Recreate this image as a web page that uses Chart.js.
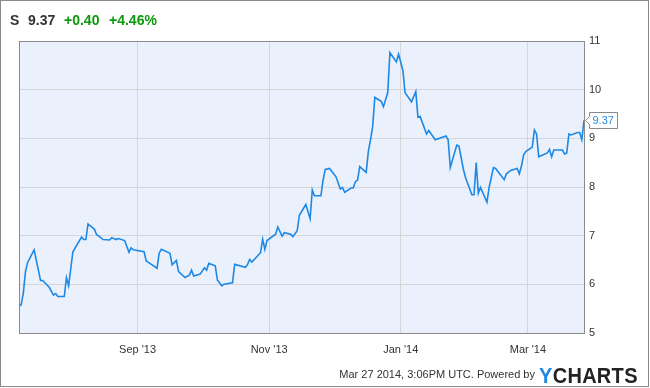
<!DOCTYPE html>
<html><head><meta charset="utf-8">
<script src="https://cdn.jsdelivr.net/npm/chart.js@4.4.1/dist/chart.umd.min.js"></script>
<style>
html,body{margin:0;padding:0;background:#fff;}
#wrap{position:relative;width:650px;height:388px;overflow:hidden;font-family:"Liberation Sans",Arial,sans-serif;}
#frame{position:absolute;left:0;top:0;width:647px;height:385px;border:1px solid #8a8a8a;pointer-events:none;}
canvas{position:absolute;left:0;top:0;}
.h{position:absolute;top:12px;font-weight:bold;font-size:14px;line-height:17px;color:#333;white-space:nowrap;}
.g{color:#0a9a0a;}
#foot{position:absolute;left:300px;width:235px;text-align:right;top:368px;font-size:11px;line-height:13px;color:#333;white-space:nowrap;}
#logo{position:absolute;left:539px;top:364px;font-size:20px;line-height:22px;letter-spacing:0.3px;font-weight:bold;color:#222;white-space:nowrap;transform:scaleY(1.08);transform-origin:0 50%;}
#logo span{color:#1e88e5;}
</style></head>
<body>
<div id="wrap">
<canvas id="c" width="650" height="388"></canvas>
<div class="h" style="left:10px">S</div>
<div class="h" id="last" style="left:28px">9.37</div>
<div class="h g" style="left:64px">+0.40</div>
<div class="h g" style="left:109px">+4.46%</div>
<div id="foot">Mar 27 2014, 3:06PM UTC. Powered by</div>
<div id="logo"><span>Y</span>CHARTS</div>
<div id="frame"></div>
</div>
<script>
const startDate = '2013-07-08';
const dates = [
'2013-07-08','2013-07-09','2013-07-10','2013-07-11','2013-07-12','2013-07-15','2013-07-18','2013-07-19','2013-07-22','2013-07-24','2013-07-25','2013-07-26','2013-07-29','2013-07-30','2013-07-31',
'2013-08-02','2013-08-06','2013-08-07','2013-08-08','2013-08-09','2013-08-12','2013-08-13','2013-08-14','2013-08-16','2013-08-19','2013-08-20','2013-08-22','2013-08-23','2013-08-26','2013-08-28','2013-08-29','2013-08-30',
'2013-09-04','2013-09-05','2013-09-06','2013-09-10','2013-09-11','2013-09-12','2013-09-16','2013-09-17','2013-09-19','2013-09-20','2013-09-23','2013-09-25','2013-09-26','2013-09-27','2013-09-30',
'2013-10-02','2013-10-03','2013-10-04','2013-10-07','2013-10-08','2013-10-10','2013-10-11','2013-10-15','2013-10-16','2013-10-21','2013-10-22','2013-10-23','2013-10-24','2013-10-28','2013-10-29','2013-10-30','2013-10-31',
'2013-11-04','2013-11-05','2013-11-07','2013-11-08','2013-11-11','2013-11-12','2013-11-14','2013-11-15','2013-11-18','2013-11-20','2013-11-21','2013-11-22','2013-11-25','2013-11-26','2013-11-27','2013-11-29',
'2013-12-02','2013-12-04','2013-12-05','2013-12-06','2013-12-09','2013-12-10','2013-12-11','2013-12-12','2013-12-13','2013-12-16','2013-12-17','2013-12-18','2013-12-19','2013-12-20','2013-12-23','2013-12-24','2013-12-26','2013-12-27','2013-12-30','2013-12-31',
'2014-01-02','2014-01-03','2014-01-06','2014-01-08','2014-01-09','2014-01-10','2014-01-13','2014-01-14','2014-01-17','2014-01-22','2014-01-23','2014-01-24','2014-01-27','2014-01-28','2014-01-30','2014-01-31',
'2014-02-03','2014-02-04','2014-02-05','2014-02-06','2014-02-07','2014-02-10','2014-02-11','2014-02-13','2014-02-14','2014-02-18','2014-02-19','2014-02-21','2014-02-24','2014-02-25','2014-02-26','2014-02-27','2014-02-28',
'2014-03-03','2014-03-04','2014-03-05','2014-03-06','2014-03-10','2014-03-11','2014-03-12','2014-03-13','2014-03-17','2014-03-18','2014-03-19','2014-03-20','2014-03-21','2014-03-24','2014-03-25','2014-03-26','2014-03-27'
];
const prices = [
5.55,5.58,5.82,6.26,6.45,6.71,6.08,6.08,5.94,5.78,5.81,5.75,5.75,6.14,5.97,
6.67,6.97,6.92,6.92,7.24,7.13,7.02,6.99,6.92,6.91,6.96,6.92,6.94,6.90,6.66,6.75,6.71,
6.67,6.48,6.45,6.33,6.64,6.72,6.64,6.40,6.49,6.26,6.14,6.19,6.29,6.17,6.21,
6.34,6.29,6.43,6.38,6.09,5.97,6.00,6.03,6.41,6.35,6.41,6.51,6.46,6.65,6.93,6.72,6.90,
7.03,7.18,6.99,7.06,7.03,6.98,7.10,7.42,7.64,7.35,7.94,7.82,7.82,8.14,8.36,8.38,
8.21,7.96,7.99,7.89,7.98,7.98,8.11,8.14,8.42,8.30,8.73,8.97,9.24,9.84,9.76,9.65,9.94,10.76,10.57,10.73,
10.40,9.94,9.75,9.96,9.43,9.45,9.09,9.16,8.97,9.05,8.97,8.40,8.86,8.84,8.38,8.20,
7.84,7.84,8.50,7.87,7.99,7.69,7.99,8.40,8.38,8.15,8.27,8.34,8.38,8.27,8.43,8.66,8.73,
8.82,9.17,9.09,8.62,8.70,8.77,8.62,8.76,8.76,8.68,8.70,9.09,9.07,9.12,9.12,8.97,9.37
];
const xTickDates = ['2013-09-01','2013-11-01','2014-01-01','2014-03-01'];
const xTickLabels = ["Sep '13","Nov '13","Jan '14","Mar '14"];
const yTicks = [5,6,7,8,9,10,11];

const dayOf = s => (Date.parse(s + 'T00:00:00Z') - Date.parse(startDate + 'T00:00:00Z')) / 86400000;
const points = dates.map((d, i) => ({x: dayOf(d), y: prices[i]}));
const xTickVals = xTickDates.map(dayOf);
const FONT = '"Liberation Sans", Arial, sans-serif';

const plotPlugin = {
  id: 'plotDeco',
  beforeDraw(chart) {
    const {ctx, chartArea: a} = chart;
    ctx.save();
    ctx.fillStyle = '#eaf1fc';
    ctx.fillRect(a.left, a.top, a.right - a.left, a.bottom - a.top);
    ctx.restore();
  },
  afterDraw(chart) {
    const {ctx, chartArea: a} = chart;
    ctx.save();
    ctx.strokeStyle = '#8a8a8a';
    ctx.lineWidth = 1;
    ctx.strokeRect(Math.round(a.left) + 0.5, Math.round(a.top) + 0.5, Math.round(a.right - a.left), Math.round(a.bottom - a.top));
    const meta = chart.getDatasetMeta(0);
    const p = meta.data[meta.data.length - 1];
    const tipX = Math.round(p.x) + 1.5, cy = Math.round(p.y) + 0.5;
    const bx = tipX + 4, w = 28, h = 16;
    const top = cy - h / 2, bot = cy + h / 2;
    ctx.beginPath();
    ctx.moveTo(tipX, cy);
    ctx.lineTo(bx, cy - 4);
    ctx.lineTo(bx, top);
    ctx.lineTo(bx + w, top);
    ctx.lineTo(bx + w, bot);
    ctx.lineTo(bx, bot);
    ctx.lineTo(bx, cy + 4);
    ctx.closePath();
    ctx.fillStyle = '#fff';
    ctx.fill();
    ctx.strokeStyle = '#8a8a8a';
    ctx.stroke();
    ctx.fillStyle = '#2a8ae2';
    ctx.font = '11px ' + FONT;
    ctx.textBaseline = 'middle';
    ctx.textAlign = 'left';
    ctx.fillText(prices[prices.length - 1].toFixed(2), bx + 3, cy);
    ctx.restore();
  }
};

new Chart(document.getElementById('c'), {
  type: 'line',
  data: {datasets: [{data: points, borderColor: '#1e88e5', borderWidth: 1.6, pointRadius: 0, tension: 0, fill: false}]},
  options: {
    responsive: false, animation: false, devicePixelRatio: 1,
    layout: {padding: {left: 19, top: 41, right: 0, bottom: 0}},
    plugins: {legend: {display: false}, tooltip: {enabled: false}},
    scales: {
      x: {
        type: 'linear', min: 0, max: dayOf(dates[dates.length - 1]),
        afterBuildTicks: s => { s.ticks = xTickVals.map(v => ({value: v})); },
        afterFit: s => { s.height = 55; },
        grid: {color: '#d6d6d6', drawTicks: false},
        border: {display: false},
        ticks: {autoSkip: false, maxRotation: 0, padding: 10, color: '#333', font: {family: FONT, size: 11},
          callback: v => xTickLabels[xTickVals.indexOf(v)]}
      },
      y: {
        position: 'right', min: 5, max: 11,
        afterBuildTicks: s => { s.ticks = yTicks.map(v => ({value: v})); },
        afterFit: s => { s.width = 66; },
        grid: {color: '#d6d6d6', drawTicks: false},
        border: {display: false},
        ticks: {padding: 5, color: '#333', font: {family: FONT, size: 11}, callback: v => String(v)}
      }
    }
  },
  plugins: [plotPlugin]
});
</script>
</body></html>
